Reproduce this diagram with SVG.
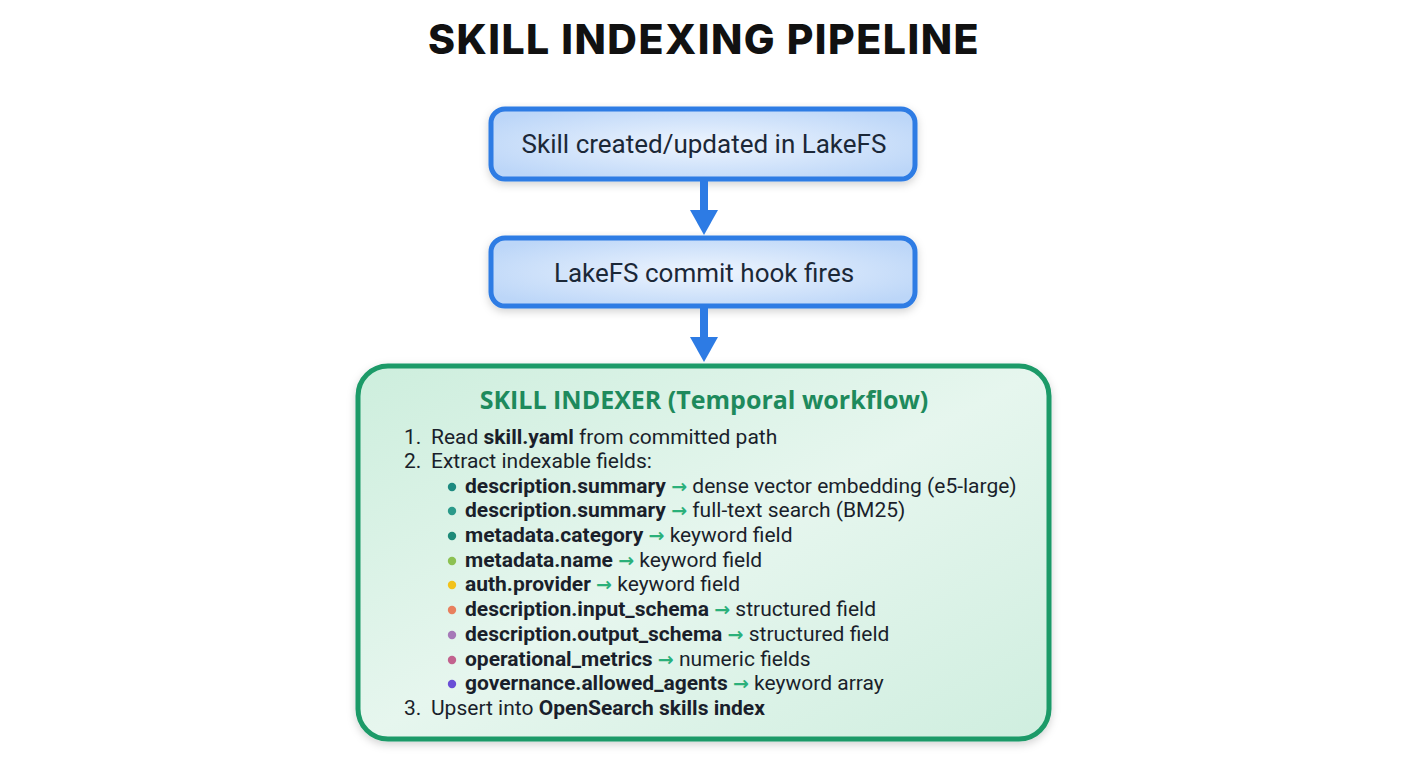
<svg xmlns="http://www.w3.org/2000/svg" width="1408" height="768" viewBox="0 0 1408 768">
<defs>
<radialGradient id="gBlue" cx="50%" cy="50%" r="60%">
<stop offset="0" stop-color="#eef5fe"/>
<stop offset="1" stop-color="#bcd6f8"/>
</radialGradient>
<linearGradient id="gGreen" x1="0" y1="0" x2="1" y2="1">
<stop offset="0" stop-color="#cdeedd"/>
<stop offset="0.5" stop-color="#e6f6ee"/>
<stop offset="1" stop-color="#cfeedf"/>
</linearGradient>
<filter id="sh" x="-10%" y="-10%" width="120%" height="130%">
<feDropShadow dx="0" dy="3" stdDeviation="4" flood-color="#000" flood-opacity="0.18"/>
</filter>
</defs>
<style>
.title{font-family:Inter,"Liberation Sans",sans-serif;font-weight:800;font-size:41px;letter-spacing:1.5px;fill:#111;text-anchor:middle}
.bt{font-family:Roboto,"Liberation Sans",sans-serif;font-size:26px;fill:#1b2838;text-anchor:middle}
.bbox{fill:url(#gBlue);stroke:#2d7be4;stroke-width:5}
.gbox{fill:url(#gGreen);stroke:#1b9a68;stroke-width:5}
.gt{font-family:"Open Sans","Liberation Sans",sans-serif;font-weight:700;font-size:25px;fill:#1e8a5c;text-anchor:middle}
.li{font-family:Roboto,"Liberation Sans",sans-serif;font-size:21px;fill:#1a1f2b}
.b{font-weight:700}
.ar{fill:#2bb07a;font-family:"DejaVu Sans",sans-serif;font-weight:700;font-size:19px}
.conn{fill:#2d7be4}
</style>
<rect width="1408" height="768" fill="#ffffff"/>
<text class="title" x="704" y="54">SKILL INDEXING PIPELINE</text>

<g id="node-skill-created">
<rect class="bbox" x="491" y="109" width="424" height="70" rx="14" filter="url(#sh)"/>
<text class="bt" x="704" y="153">Skill created/updated in LakeFS</text>
</g>

<g id="node-commit-hook">
<rect class="bbox" x="491" y="238" width="424" height="68" rx="14" filter="url(#sh)"/>
<text class="bt" x="704" y="282">LakeFS commit hook fires</text>
</g>

<g id="connectors">
<rect class="conn" x="700" y="180" width="8" height="32"/>
<polygon class="conn" points="690,210 718,210 704,235"/>
<rect class="conn" x="700" y="307" width="8" height="32"/>
<polygon class="conn" points="690,337 718,337 704,362"/>
</g>

<g id="node-skill-indexer">
<rect class="gbox" x="358" y="366" width="691" height="373" rx="30" filter="url(#sh)"/>
<text class="gt" x="704" y="409">SKILL INDEXER (Temporal workflow)</text>
<text class="li" x="404" y="444">1.</text>
<text class="li" x="431" y="444">Read <tspan class="b">skill.yaml</tspan> from committed path</text>
<text class="li" x="404" y="468">2.</text>
<text class="li" x="431" y="468">Extract indexable fields:</text>

<circle cx="452" cy="487" r="4.2" fill="#1d8a80"/>
<text class="li" x="465" y="493"><tspan class="b">description.summary</tspan> <tspan class="ar">→</tspan> dense vector embedding (e5-large)</text>
<circle cx="452" cy="511" r="4.2" fill="#2a9a8a"/>
<text class="li" x="465" y="517"><tspan class="b">description.summary</tspan> <tspan class="ar">→</tspan> full-text search (BM25)</text>
<circle cx="452" cy="536" r="4.2" fill="#1d8a78"/>
<text class="li" x="465" y="542"><tspan class="b">metadata.category</tspan> <tspan class="ar">→</tspan> keyword field</text>
<circle cx="452" cy="561" r="4.2" fill="#8cc152"/>
<text class="li" x="465" y="567"><tspan class="b">metadata.name</tspan> <tspan class="ar">→</tspan> keyword field</text>
<circle cx="452" cy="585" r="4.2" fill="#f2c21b"/>
<text class="li" x="465" y="591"><tspan class="b">auth.provider</tspan> <tspan class="ar">→</tspan> keyword field</text>
<circle cx="452" cy="610" r="4.2" fill="#e8805e"/>
<text class="li" x="465" y="616"><tspan class="b">description.input_schema</tspan> <tspan class="ar">→</tspan> structured field</text>
<circle cx="452" cy="635" r="4.2" fill="#a679b8"/>
<text class="li" x="465" y="641"><tspan class="b">description.output_schema</tspan> <tspan class="ar">→</tspan> structured field</text>
<circle cx="452" cy="660" r="4.2" fill="#c2628e"/>
<text class="li" x="465" y="666"><tspan class="b">operational_metrics</tspan> <tspan class="ar">→</tspan> numeric fields</text>
<circle cx="452" cy="684" r="4.2" fill="#6a4fd6"/>
<text class="li" x="465" y="690"><tspan class="b">governance.allowed_agents</tspan> <tspan class="ar">→</tspan> keyword array</text>

<text class="li" x="404" y="715">3.</text>
<text class="li" x="431" y="715">Upsert into <tspan class="b">OpenSearch skills index</tspan></text>
</g>
</svg>
